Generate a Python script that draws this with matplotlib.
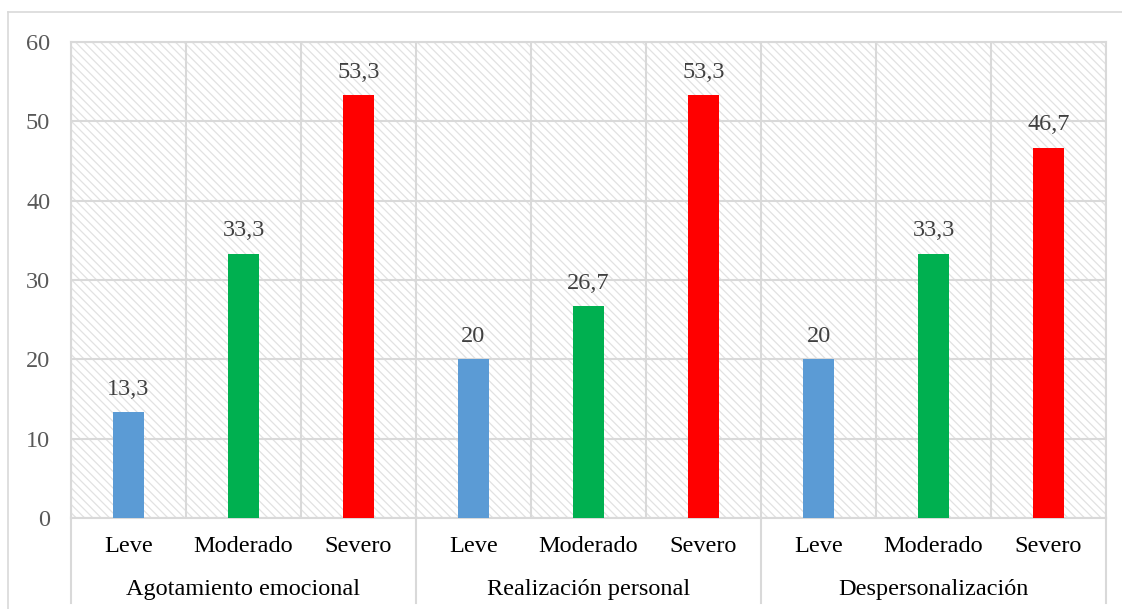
import matplotlib.pyplot as plt
from matplotlib.lines import Line2D

plt.rcParams['font.family'] = ['Liberation Serif', 'DejaVu Serif']
plt.rcParams['hatch.color'] = '#e2e2e2'
plt.rcParams['hatch.linewidth'] = 0.9

grupos = ['Agotamiento emocional', 'Realización personal', 'Despersonalización']
niveles = ['Leve', 'Moderado', 'Severo']
valores = [[13.3, 33.3, 53.3],
           [20, 26.7, 53.3],
           [20, 33.3, 46.7]]
colores = ['#5b9bd5', '#00b050', '#ff0000']

W, H = 1122, 609
fig = plt.figure(figsize=(W / 100, H / 100), dpi=100)
x0, x1, y0, y1 = 71, 1106, 42, 518
ax = fig.add_axes([x0 / W, 1 - y1 / H, (x1 - x0) / W, (y1 - y0) / H])

# fondo rayado
ax.patch.set_facecolor('white')
ax.patch.set_hatch('\\\\\\\\')
ax.patch.set_edgecolor('#e2e2e2')
ax.patch.set_linewidth(0)

n = len(grupos) * len(niveles)
pos = 0
for g in range(len(grupos)):
    for k in range(len(niveles)):
        v = valores[g][k]
        ax.bar(pos + 0.5, v, width=0.27, color=colores[k], zorder=3)
        lab = ('%g' % v).replace('.', ',')
        ax.annotate(lab, (pos + 0.5, v), xytext=(0, 9), textcoords='offset points',
                    ha='center', va='bottom', fontsize=17.5, color='#404040', zorder=4)
        pos += 1

ax.set_xlim(0, n)
ax.set_ylim(0, 60)
ax.set_yticks(range(0, 61, 10))
ax.set_xticks(range(0, n + 1))
ax.set_xticklabels([])
ax.tick_params(axis='x', length=0)
ax.tick_params(axis='y', length=0, pad=15, labelsize=17.5, labelcolor='#595959')
ax.grid(True, color='#d9d9d9', linewidth=1.5, zorder=1)
ax.set_axisbelow(True)
for s in ax.spines.values():
    s.set_color('#d9d9d9')
    s.set_linewidth(1.5)

# etiquetas de categorías
slot = (x1 - x0) / n
for i in range(n):
    xc = x0 + slot * (i + 0.5)
    fig.text(xc / W, 1 - 547 / H, niveles[i % 3], ha='center', va='center',
             fontsize=17.5, color='black')
for g in range(len(grupos)):
    xc = x0 + slot * (3 * g + 1.5)
    fig.text(xc / W, 1 - 589 / H, grupos[g], ha='center', va='center',
             fontsize=17.5, color='black')
for g in range(len(grupos) + 1):
    xs = (x0 + slot * 3 * g) / W
    fig.add_artist(Line2D([xs, xs], [1 - y1 / H, 1 - 603 / H], color='#d9d9d9', lw=1.5))

# borde del gráfico
fig.add_artist(Line2D([8 / W, 1], [1 - 12 / H, 1 - 12 / H], color='#d9d9d9', lw=1.2))
fig.add_artist(Line2D([8 / W, 8 / W], [1 - 12 / H, 0], color='#d9d9d9', lw=1.2))

fig.savefig('out.png', dpi=100)
